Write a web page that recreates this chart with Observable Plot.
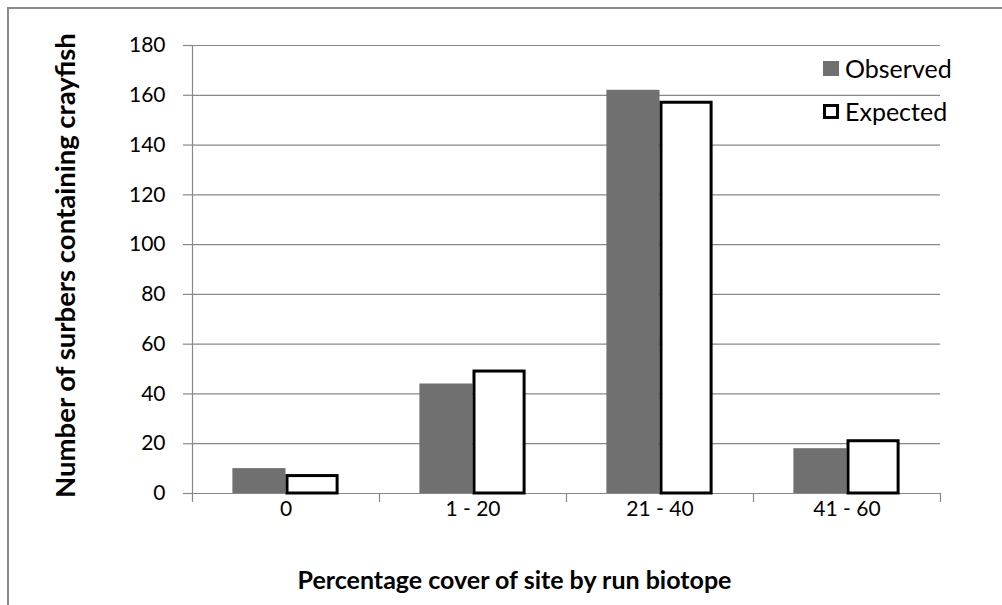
<!DOCTYPE html>
<html><head><meta charset="utf-8">
<script src="https://cdn.jsdelivr.net/npm/d3@7"></script>
<script src="https://cdn.jsdelivr.net/npm/@observablehq/plot@0.6"></script>
<style>
body{margin:0;background:#fff;font-family:Lato,sans-serif;}
#wrap{position:relative;width:1002px;height:605px;overflow:hidden;}
#border{position:absolute;left:7px;top:7px;width:1100px;height:700px;border-top:2px solid #8a8a8a;border-left:2px solid #8a8a8a;}
#chart{position:absolute;left:0;top:0;}
.leg{position:absolute;left:823px;display:flex;align-items:center;font-size:25px;color:#000;font-family:Lato,sans-serif;}
.sw{width:16px;height:15px;margin-right:6px;box-sizing:border-box;}
</style></head>
<body>
<div id="wrap"><div id="border"></div><div id="chart"></div>
<div class="leg" style="top:53px"><div class="sw" style="background:#707070"></div>Observed</div>
<div class="leg" style="top:96px"><div class="sw" style="background:#fff;border:3px solid #000"></div>Expected</div>
</div>
<script>
const categories = ["0", "1 - 20", "21 - 40", "41 - 60"];
const observed = [10, 44, 162, 18];
const expected = [7, 49, 157, 21];
const yTicks = [0, 20, 40, 60, 80, 100, 120, 140, 160, 180];
const xTitle = "Percentage cover of site by run biotope";
const yTitle = "Number of surbers containing crayfish";

const obsData = categories.map((c, i) => ({cat: c, value: observed[i]}));
const expData = categories.map((c, i) => ({cat: c, value: expected[i]}));

const W = 1002, H = 605, mL = 192, mR = 62, mT = 45, mB = 112;
const bw = (W - mL - mR) / categories.length;
const barW = bw * 0.284;
const outer = (bw - 2 * barW) / 2;
const grid = "#888";

const plot = Plot.plot({
  width: W, height: H,
  marginLeft: mL, marginRight: mR, marginTop: mT, marginBottom: mB,
  style: {fontFamily: "Lato, sans-serif", color: "#000", background: "transparent"},
  x: {type: "band", domain: categories, padding: 0, axis: null},
  y: {domain: [0, 180], axis: null},
  marks: [
    Plot.gridY(yTicks, {stroke: grid, strokeOpacity: 1, strokeWidth: 1.2}),
    Plot.ruleX([categories[0]], {x: d => d, dx: -bw / 2, y1: 0, y2: 180, stroke: grid, strokeWidth: 1.2}),
    Plot.ruleX(categories, {x: d => d, dx: -bw / 2, y1: 0, y2: 0, insetBottom: -9, stroke: grid, strokeWidth: 1.2}),
    Plot.ruleX([categories[categories.length - 1]], {x: d => d, dx: bw / 2, y1: 0, y2: 0, insetBottom: -9, stroke: grid, strokeWidth: 1.2}),
    Plot.axisY({ticks: yTicks, tickSize: 9, tickPadding: 18, stroke: grid, fill: "#000", fontSize: 21, strokeWidth: 1.2, label: null}),
    Plot.axisX({tickSize: 0, tickPadding: 8, fontSize: 21, fill: "#000", label: null}),
    Plot.barY(obsData, {x: "cat", y: "value", fill: "#707070", insetLeft: outer, insetRight: bw - outer - barW}),
    Plot.barY(expData, {x: "cat", y: "value", fill: "#fff", stroke: "#000", strokeWidth: 3, insetLeft: outer + barW + 1.5, insetRight: outer + 1.5}),
    Plot.text([xTitle], {frameAnchor: "bottom", textAnchor: "middle", dx: -52, dy: 95, fontSize: 25, fontWeight: "bold", fill: "#000"}),
    Plot.text([yTitle], {frameAnchor: "left", textAnchor: "middle", dx: -126, dy: -4, rotate: -90, fontSize: 27.5, fontWeight: "bold", fill: "#000"})
  ]
});
document.getElementById("chart").appendChild(plot);
</script>
</body></html>
